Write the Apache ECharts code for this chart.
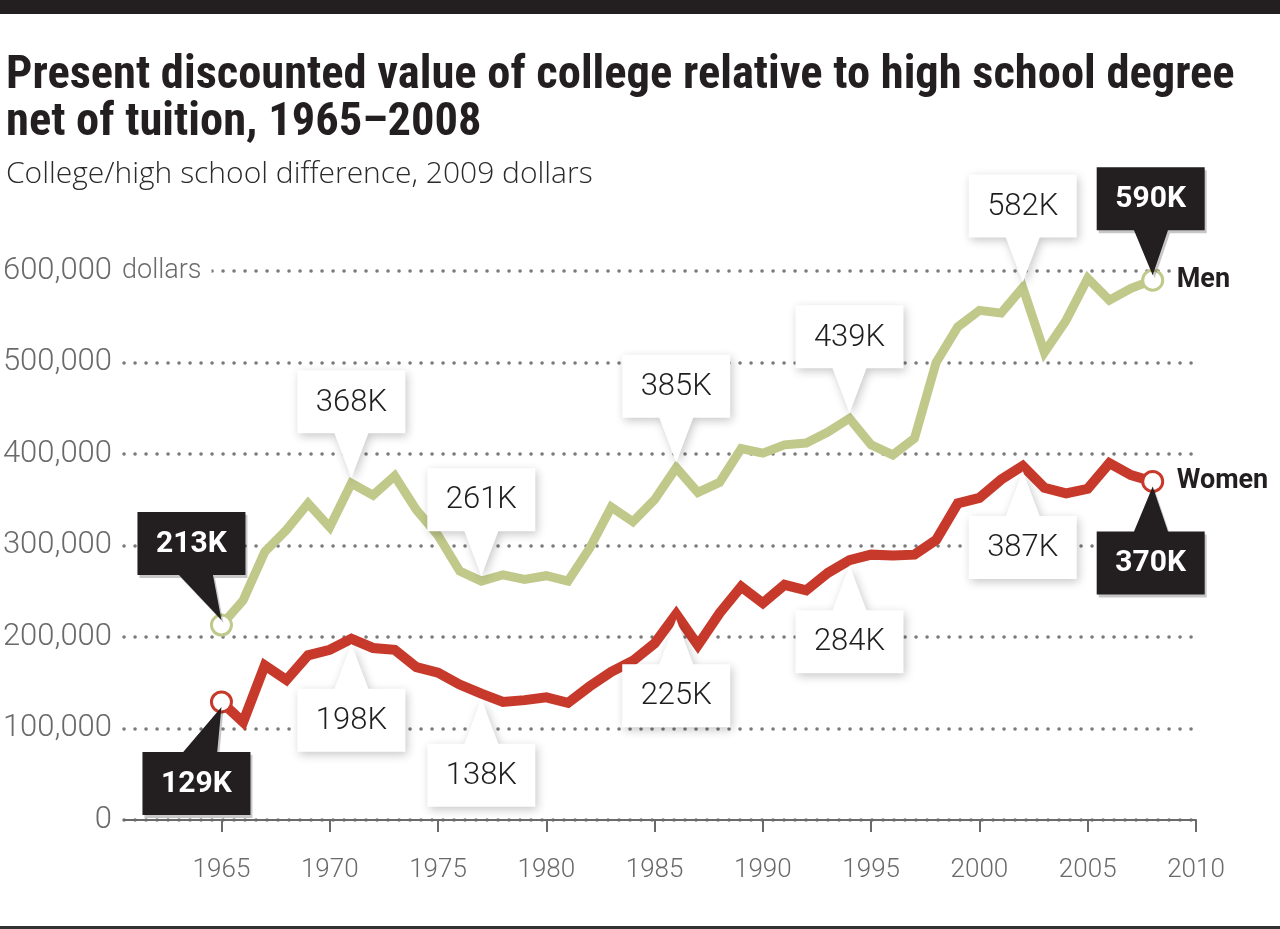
<!DOCTYPE html>
<html><head><meta charset="utf-8">
<script src="https://cdn.jsdelivr.net/npm/echarts@6/dist/echarts.min.js"></script>
<style>html,body{margin:0;padding:0;background:#fff}#c{width:1280px;height:929px}</style>
</head><body><div id="c"></div>
<script>
// ---- data ----
const years = [1965,1966,1967,1968,1969,1970,1971,1972,1973,1974,1975,1976,1977,1978,1979,1980,1981,1982,1983,1984,1985,1986,1987,1988,1989,1990,1991,1992,1993,1994,1995,1996,1997,1998,1999,2000,2001,2002,2003,2004,2005,2006,2007,2008];
const menValues = [213000,240000,293000,317000,346000,320000,368000,355000,376000,339000,311000,272000,261000,268000,263000,267000,261000,297000,342000,326000,350000,385000,358000,369000,406000,401000,410000,412000,424000,439000,410000,399000,417000,500000,539000,557000,554000,582000,511000,546000,592000,568000,581000,590000];
const womenValues = [129000,107000,169000,153000,180000,186000,198000,188000,186000,167000,161000,148000,138000,129000,131000,134000,128000,146000,162000,174000,193000,225000,191000,226000,255000,237000,257000,251000,270000,284000,290000,289000,290000,306000,346000,352000,372000,387000,363000,357000,362000,390000,377000,370000];
const xTickValues = [1965,1970,1975,1980,1985,1990,1995,2000,2005,2010];
const yTickValues = [0,100000,200000,300000,400000,500000,600000];
const calloutYears = [1965,1971,1977,1986,1994,2002,2008];
const seriesNames = ['Men','Women'];

// ---- styles ----
const MEN_COLOR = '#c0c88a';
const WOMEN_COLOR = '#c73a2b';
const INK = '#231f20';
const GRAY = '#6a6a6a';
const LIGHT_FONT = "Roboto, 'Open Sans', sans-serif";
const SUB_FONT = "'Open Sans', Roboto, sans-serif";
const TITLE_FONT = "'Liberation Sans Narrow', 'Roboto Condensed', 'DejaVu Sans Condensed', Roboto, sans-serif";
const calloutShift = { Men: {1965: -30, 2008: -2}, Women: {1965: -25, 2008: -2} };

function pairs(vals) {
  return years.map((y, i) => {
    const item = { value: [y, vals[i]] };
    item.symbol = (i === 0 || i === years.length - 1) ? 'circle' : 'none';
    return item;
  });
}
function calloutData(vals) {
  return calloutYears.map((y, k) => {
    const i = years.indexOf(y);
    const dark = (k === 0 || k === calloutYears.length - 1) ? 1 : 0;
    return [y, vals[i], dark];
  });
}
function calloutRender(side, shifts) {
  return function (params, api) {
    const x = api.value(0), v = api.value(1), dark = api.value(2) === 1;
    const p = api.coord([x, v]);
    const W = 108, H = 63, G = 50, BASE = 34;
    const dx = shifts[x] || 0;
    const cx = p[0] + dx, bc = p[0] + 0.85 * dx;
    const L = cx - W / 2, R = cx + W / 2;
    let pts, ty;
    if (side === 'above') {
      const B = p[1] - G, T = B - H;
      pts = [[L, T], [R, T], [R, B], [bc + BASE / 2, B], [p[0], p[1] - 5], [bc - BASE / 2, B], [L, B]];
      ty = (T + B) / 2;
    } else {
      const T = p[1] + G, B = T + H;
      pts = [[L, B], [R, B], [R, T], [bc + BASE / 2, T], [p[0], p[1] + 5], [bc - BASE / 2, T], [L, T]];
      ty = (T + B) / 2;
    }
    return {
      type: 'group',
      children: [
        { type: 'polygon', shape: { points: pts },
          style: { fill: dark ? INK : '#ffffff',
                   shadowBlur: dark ? 0 : 10, shadowColor: 'rgba(0,0,0,0.22)',
                   shadowOffsetX: 2, shadowOffsetY: 3 } },
        { type: 'text',
          style: { text: Math.round(v / 1000) + 'K', x: cx, y: ty + 1,
                   align: 'center', verticalAlign: 'middle',
                   fill: dark ? '#ffffff' : '#1e1e1e',
                   fontSize: dark ? 30 : 31, fontWeight: dark ? 'bold' : 300,
                   fontFamily: LIGHT_FONT } }
      ]
    };
  };
}

const chart = echarts.init(document.getElementById('c'), null, { renderer: 'canvas' });
const option = {
  backgroundColor: '#ffffff',
  animation: false,
  title: [
    { text: 'Present discounted value of college relative to high school degree\nnet of tuition, 1965\u20132008',
      left: 1, top: 48,
      textStyle: { fontFamily: TITLE_FONT, fontWeight: 'bold', fontSize: 46.5, lineHeight: 47, color: INK } },
    { text: 'College/high school difference, 2009 dollars',
      left: 1, top: 154,
      textStyle: { fontFamily: SUB_FONT, fontWeight: 300, fontSize: 30, color: '#2a2a2a' } }
  ],
  graphic: [
    { type: 'rect', left: 0, top: 0, shape: { width: 1280, height: 14 }, style: { fill: INK } },
    { type: 'rect', left: 0, top: 926, shape: { width: 1280, height: 3 }, style: { fill: '#333' } }
  ],
  grid: { left: 124, right: 84, top: 271, bottom: 109, outerBoundsMode: 'none' },
  xAxis: {
    type: 'value', min: 1960.5, max: 2010, offset: 19,
    axisLine: { show: true, lineStyle: { color: GRAY, width: 2 } },
    axisTick: { show: true, customValues: xTickValues, length: 12, lineStyle: { color: GRAY, width: 2 } },
    axisLabel: { customValues: xTickValues, formatter: function (v) { return String(v); },
                 margin: 18, fontSize: 26, color: GRAY, fontFamily: LIGHT_FONT, fontWeight: 300 },
    splitLine: { show: false }
  },
  yAxis: {
    type: 'value', min: 0, max: 600000, interval: 100000,
    axisLine: { show: false }, axisTick: { show: false },
    axisLabel: {
      align: 'left', margin: 121,
      formatter: function (v) {
        const s = v.toLocaleString('en-US');
        return v === yTickValues[yTickValues.length - 1] ? '{n|' + s + '}{d|dollars}' : '{n|' + s + '}';
      },
      rich: {
        n: { width: 109, align: 'right', fontSize: 31, color: GRAY, fontFamily: LIGHT_FONT, fontWeight: 300 },
        d: { fontSize: 27, color: GRAY, fontFamily: LIGHT_FONT, fontWeight: 300, backgroundColor: '#ffffff', padding: [6, 10, 6, 10] }
      }
    },
    splitLine: { show: true, lineStyle: { color: '#7a7a7a', width: 3.5, type: [0.1, 10.9], cap: 'round' } }
  },
  series: [
    { name: seriesNames[0], type: 'line', data: pairs(menValues), clip: false, z: 3,
      symbolSize: 20, itemStyle: { color: '#ffffff', borderColor: MEN_COLOR, borderWidth: 3 },
      lineStyle: { color: MEN_COLOR, width: 9, join: 'miter' },
      endLabel: { show: true, formatter: seriesNames[0], distance: 20, color: INK, fontWeight: 'bold',
                  fontSize: 27, fontFamily: LIGHT_FONT, backgroundColor: '#ffffff', padding: [4, 6, 4, 4] } },
    { name: seriesNames[1], type: 'line', data: pairs(womenValues), clip: false, z: 3,
      symbolSize: 20, itemStyle: { color: '#ffffff', borderColor: WOMEN_COLOR, borderWidth: 3 },
      lineStyle: { color: WOMEN_COLOR, width: 10, join: 'miter' },
      endLabel: { show: true, formatter: seriesNames[1], distance: 20, color: INK, fontWeight: 'bold',
                  fontSize: 27, fontFamily: LIGHT_FONT, backgroundColor: '#ffffff', padding: [4, 6, 4, 4] } },
    { type: 'custom', coordinateSystem: 'cartesian2d', z: 10, clip: false,
      encode: { x: 0, y: 1 }, data: calloutData(menValues),
      renderItem: calloutRender('above', calloutShift.Men) },
    { type: 'custom', coordinateSystem: 'cartesian2d', z: 10, clip: false,
      encode: { x: 0, y: 1 }, data: calloutData(womenValues),
      renderItem: calloutRender('below', calloutShift.Women) }
  ]
};
chart.setOption(option);
</script></body></html>
